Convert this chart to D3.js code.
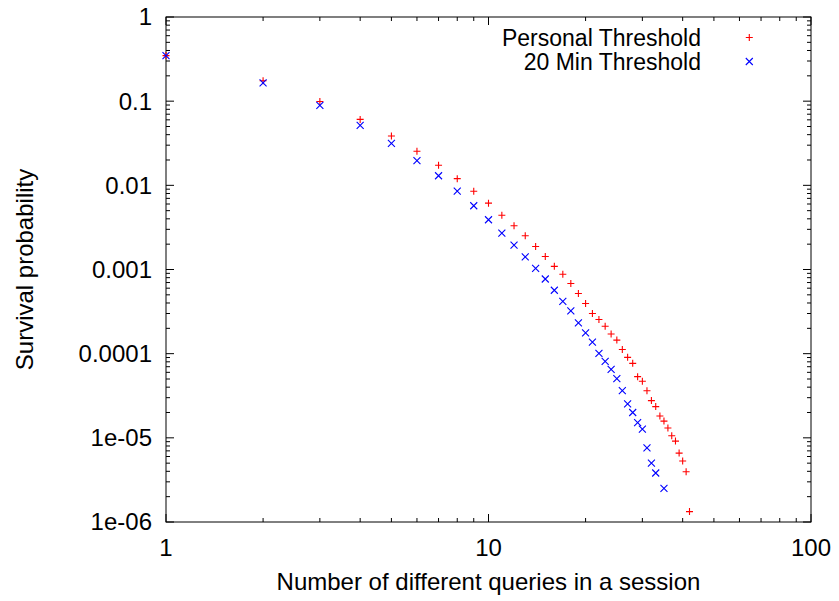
<!DOCTYPE html>
<html>
<head>
<meta charset="utf-8">
<script src="https://cdn.jsdelivr.net/npm/d3@7"></script>
<style>
  body { margin: 0; background: #fff; }
  text { font-family: "Liberation Sans", Arial, sans-serif; }
</style>
</head>
<body>
<div id="chart"></div>
<script>
// queries per session (x) and survival probability for each threshold
var personalX = [1,2,3,4,5,6,7,8,9,10,11,12,13,14,15,16,17,18,19,20,21,22,23,24,25,26,27,28,29,30,31,32,33,34,35,36,37,38,39,40,41,42];
var personalY = [0.348,0.1745,0.0992,0.0607,0.0386,0.0254,0.0173,0.0120,0.00851,0.00614,0.00442,0.00331,0.00252,0.00188,0.00143,0.00109,8.77e-4,6.81e-4,5.18e-4,3.94e-4,3.0e-4,2.55e-4,2.12e-4,1.71e-4,1.45e-4,1.12e-4,9.04e-5,7.67e-5,5.33e-5,4.70e-5,3.63e-5,2.77e-5,2.35e-5,1.82e-5,1.58e-5,1.31e-5,1.06e-5,9.14e-6,6.59e-6,5.30e-6,3.96e-6,1.33e-6];
var minX = [1,2,3,4,5,6,7,8,9,10,11,12,13,14,15,16,17,18,19,20,21,22,23,24,25,26,27,28,29,30,31,32,33,35];
var minY = [0.348,0.165,0.0889,0.0515,0.0315,0.0197,0.0130,0.00851,0.00572,0.00390,0.00271,0.00195,0.00141,0.00103,7.71e-4,5.67e-4,4.17e-4,3.22e-4,2.32e-4,1.77e-4,1.37e-4,1.01e-4,8.11e-5,6.52e-5,5.05e-5,3.63e-5,2.53e-5,2.0e-5,1.52e-5,1.27e-5,7.62e-6,5.01e-6,3.82e-6,2.51e-6];
var xTicks = [1, 10, 100];
var xTickLabels = ["1", "10", "100"];
var yTicks = [1, 0.1, 0.01, 0.001, 0.0001, 0.00001, 0.000001];
var yTickLabels = ["1", "0.1", "0.01", "0.001", "0.0001", "1e-05", "1e-06"];
var seriesNames = ["Personal Threshold", "20 Min Threshold"];

function init(){
    var w = 839, h = 601;
    var left = 166, right = 811, top = 17, bottom = 522;

    var x = d3.scaleLog().domain([1, 100]).range([left, right]);
    var y = d3.scaleLog().domain([1e-6, 1]).range([bottom, top]);

    var svg = d3.select("#chart").append("svg")
        .attr("width", w).attr("height", h);

    // minor tick positions
    var xMinor = [], yMinor = [];
    [1, 10].forEach(function(d){ for (var k = 2; k <= 9; k++) xMinor.push(d * k); });
    for (var e = -6; e < 0; e++) for (var k = 2; k <= 9; k++) yMinor.push(k * Math.pow(10, e));

    var tickLen = 8, minorLen = 4;
    var g = svg.append("g").attr("stroke", "#000").attr("stroke-width", 1);

    // ticks on all four sides, pointing inward
    xTicks.forEach(function(d){
        g.append("line").attr("x1", x(d)).attr("x2", x(d)).attr("y1", bottom).attr("y2", bottom - tickLen);
        g.append("line").attr("x1", x(d)).attr("x2", x(d)).attr("y1", top).attr("y2", top + tickLen);
    });
    xMinor.forEach(function(d){
        g.append("line").attr("x1", x(d)).attr("x2", x(d)).attr("y1", bottom).attr("y2", bottom - minorLen);
        g.append("line").attr("x1", x(d)).attr("x2", x(d)).attr("y1", top).attr("y2", top + minorLen);
    });
    yTicks.forEach(function(d){
        g.append("line").attr("y1", y(d)).attr("y2", y(d)).attr("x1", left).attr("x2", left + tickLen);
        g.append("line").attr("y1", y(d)).attr("y2", y(d)).attr("x1", right).attr("x2", right - tickLen);
    });
    yMinor.forEach(function(d){
        g.append("line").attr("y1", y(d)).attr("y2", y(d)).attr("x1", left).attr("x2", left + minorLen);
        g.append("line").attr("y1", y(d)).attr("y2", y(d)).attr("x1", right).attr("x2", right - minorLen);
    });

    // frame
    svg.append("rect")
        .attr("x", left).attr("y", top)
        .attr("width", right - left).attr("height", bottom - top)
        .attr("fill", "none").attr("stroke", "#000").attr("stroke-width", 1);

    // tick labels
    svg.selectAll(".xl").data(xTicks).enter().append("text")
        .attr("class", "xl")
        .attr("x", function(d){ return x(d); })
        .attr("y", 556)
        .attr("text-anchor", "middle")
        .attr("font-size", 24)
        .text(function(d, i){ return xTickLabels[i]; });

    svg.selectAll(".yl").data(yTicks).enter().append("text")
        .attr("class", "yl")
        .attr("x", 152)
        .attr("y", function(d){ return y(d); })
        .attr("dy", "0.35em")
        .attr("text-anchor", "end")
        .attr("font-size", 24)
        .text(function(d, i){ return yTickLabels[i]; });

    // axis titles
    svg.append("text")
        .attr("x", (left + right) / 2).attr("y", 590)
        .attr("text-anchor", "middle").attr("font-size", 24)
        .text("Number of different queries in a session");
    svg.append("text")
        .attr("transform", "translate(33," + (top + bottom) / 2 + ") rotate(-90)")
        .attr("text-anchor", "middle").attr("font-size", 24)
        .text("Survival probability");

    var s = 3.5;
    function plus(sel, color){
        sel.append("path")
            .attr("d", "M" + (-s) + ",0H" + s + "M0," + (-s) + "V" + s)
            .attr("stroke", color).attr("stroke-width", 1.1).attr("fill", "none");
    }
    function cross(sel, color){
        sel.append("path")
            .attr("d", "M" + (-s) + "," + (-s) + "L" + s + "," + s + "M" + (-s) + "," + s + "L" + s + "," + (-s))
            .attr("stroke", color).attr("stroke-width", 1.1).attr("fill", "none");
    }
    function pos(d){
        return "translate(" + x(d[0]) + "," + y(d[1]) + ")";
    }

    var personal = personalX.map(function(d, i){ return [d, personalY[i]]; });
    var twenty = minX.map(function(d, i){ return [d, minY[i]]; });

    var pg = svg.selectAll(".pt").data(personal).enter().append("g")
        .attr("class", "pt").attr("transform", pos);
    plus(pg, "#ff0000");

    var mg = svg.selectAll(".mt").data(twenty).enter().append("g")
        .attr("class", "mt").attr("transform", pos);
    cross(mg, "#0000ff");

    // legend
    var legY = [37.5, 61.5];
    svg.selectAll(".lt").data(seriesNames).enter().append("text")
        .attr("class", "lt")
        .attr("x", 701)
        .attr("y", function(d, i){ return legY[i]; })
        .attr("dy", "0.35em")
        .attr("text-anchor", "end")
        .attr("font-size", 23)
        .text(function(d){ return d; });
    plus(svg.append("g").attr("transform", "translate(749.3," + legY[0] + ")"), "#ff0000");
    cross(svg.append("g").attr("transform", "translate(749.3," + legY[1] + ")"), "#0000ff");
}
window.onload = init;
</script>
</body>
</html>
